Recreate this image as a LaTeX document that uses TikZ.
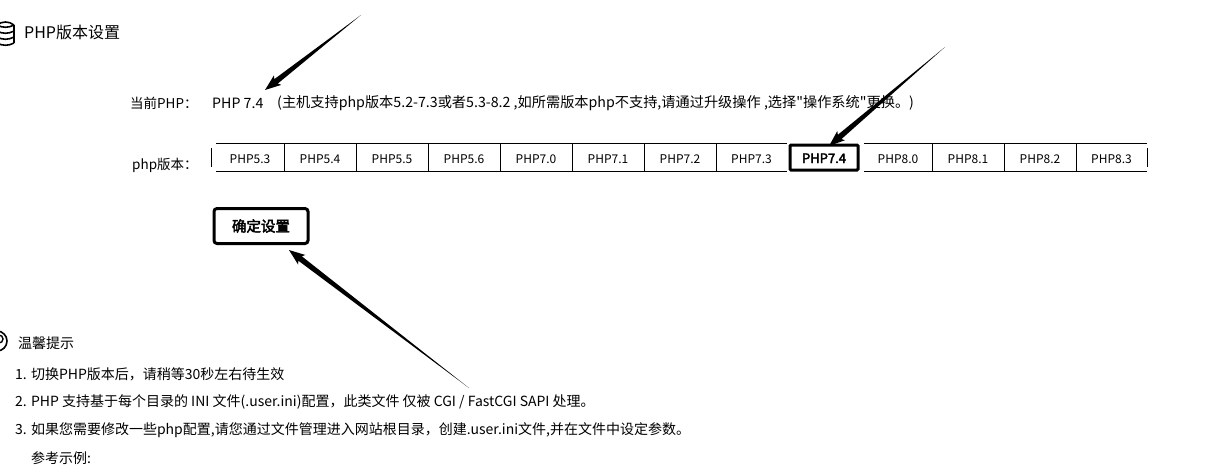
\documentclass[tikz,border=0pt]{standalone}
\usepackage{fontspec}
\usetikzlibrary{calc}
\newfontfamily\uifont{Noto Sans CJK SC}
\newfontfamily\heavyfont[FakeBold=3]{Noto Sans CJK SC}

\tikzset{
  label/.style={anchor=west,inner sep=0pt,font=\uifont\fontsize{13.5}{13}\selectfont},
  rowtext/.style={anchor=west,inner sep=0pt,font=\uifont\fontsize{14.2}{13}\selectfont},
  tipline/.style={anchor=west,inner sep=0pt,font=\uifont\fontsize{14}{13}\selectfont},
  tab/.style={minimum height=27,inner sep=0pt,text height=11,text depth=0,font=\uifont\fontsize{12}{12}\selectfont},
  tabline/.style={line width=1pt},
  active/.style={draw,line width=3pt},
  pointer/.style={fill=black,draw=none}
}

% Tapered arrow: #1 tail, #2 tip
\newcommand{\taperarrow}[2]{
\fill[pointer] (#1)
  -- ($($(#2)!14pt!(#1)$)!2.8pt!90:(#2)$)
  -- ($($(#2)!16pt!(#1)$)!6pt!90:(#2)$)
  -- (#2)
  -- ($($(#2)!16pt!(#1)$)!6pt!-90:(#2)$)
  -- ($($(#2)!14pt!(#1)$)!2.8pt!-90:(#2)$)
  -- cycle;
}

\begin{document}
\begin{tikzpicture}[x=1pt,y=-1pt]
\useasboundingbox (0,0) rectangle (1217,472);

% Title and its icon
\begin{scope}
\clip (0,0) rectangle (1217,472);
\foreach \yy in {25,31,37,43}
{\draw[line width=1.6pt] (-3,\yy) .. controls (2,\yy+3) and (9,\yy+3) .. (14,\yy);}
\draw[line width=1.6pt] (14,25) -- (14,43);
\draw[line width=1.6pt] (-3,25) .. controls (2,21) and (9,21) .. (14,25);
% Tip icon
\draw[line width=1.6pt] (-3,341) circle (10);
\draw[line width=1.4pt] (-1,339) circle (4) (-1,343) -- (-1,352);
\end{scope}
\node[label,font=\uifont\fontsize{16}{16}\selectfont] (title) at (24,32) {PHP版本设置};

% Current version row
\node[label] (curlabel) at (130,103) {当前PHP：};
\node[rowtext] (curvalue) at (212,103) {PHP 7.4};
\node[rowtext] (curnote) at (277,103) {(主机支持php版本5.2-7.3或者5.3-8.2 ,如所需版本php不支持,请通过升级操作 ,选择"操作系统"更换。)};

% Version tabs
\node[label] (verlabel) at (132,165) {php版本：};
\foreach \id/\name/\xa/\xb in {53/5.3/216/284,54/5.4/284/356,55/5.5/356/428,56/5.6/428/500,70/7.0/500/572,71/7.1/572/644,72/7.2/644/716,73/7.3/716/787,80/8.0/864/932,81/8.1/932/1004,82/8.2/1004/1076,83/8.3/1076/1147}
{\node[tab,minimum width=\xb-\xa] (tab\id) at ({(\xa+\xb)/2},157.5) {PHP\name};
\draw[tabline] (tab\id.north west) -- (tab\id.north east);
\draw[tabline] (tab\id.south west) -- (tab\id.south east);}
\foreach \id in {53,54,55,56,70,71,72,80,81,82}
{\draw[tabline] (tab\id.north east) -- (tab\id.south east);}
\draw[tabline] ($(tab53.north west)+(-4,4)$) -- ($(tab53.south west)+(-4,-4)$);
\draw[tabline] ($(tab83.north east)+(0,4)$) -- ($(tab83.south east)+(0,-4)$);
\node[tab,active,minimum width=68,minimum height=25,rounded corners=1pt,font=\heavyfont\fontsize{13}{12}\selectfont] (tab74) at (824,157.5) {PHP7.4};

% Confirm button
\node[active,rounded corners=3pt,inner sep=0pt,minimum width=94,minimum height=35,font=\heavyfont\fontsize{14.5}{14}\selectfont] (confirm) at (261,226) {确定设置};

% Notes
\node[tipline] (tiptitle) at (18,343) {温馨提示};
\node[tipline] (tipone) at (15,374) {1. 切换PHP版本后，请稍等30秒左右待生效};
\node[tipline] (tiptwo) at (15,402) {2. PHP 支持基于每个目录的 INI 文件(.user.ini)配置，此类文件 仅被 CGI / FastCGI SAPI 处理。};
\node[tipline] (tipthree) at (15,430) {3. 如果您需要修改一些php配置,请您通过文件管理进入网站根目录，创建.user.ini文件,并在文件中设定参数。};
\node[tipline] (tipfour) at (31,458) {参考示例:};

% Arrows
\coordinate (tailone) at (361,15);
\coordinate (headone) at (265,90);
\coordinate (tailtwo) at (945,47);
\coordinate (headtwo) at (829,146);
\coordinate (tailthree) at (469,388);
\coordinate (headthree) at (289,250);
\taperarrow{tailone}{headone}
\taperarrow{tailtwo}{headtwo}
\taperarrow{tailthree}{headthree}
\end{tikzpicture}
\end{document}
